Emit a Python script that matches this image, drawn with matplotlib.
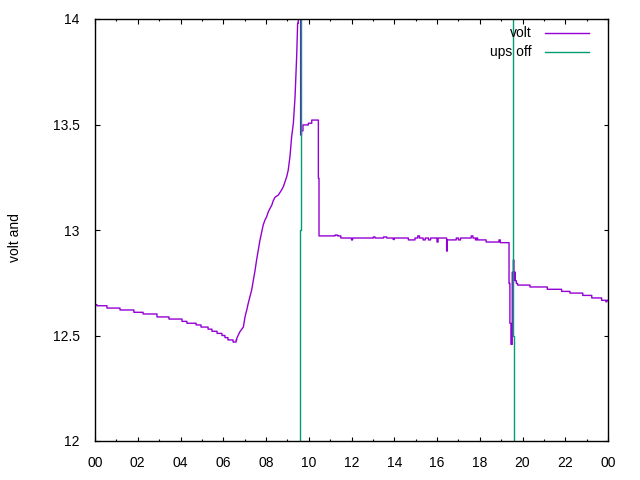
import matplotlib
matplotlib.use("Agg")
import matplotlib.pyplot as plt
from matplotlib.ticker import MultipleLocator, FixedLocator

plt.rcParams['font.family'] = ['Liberation Sans', 'DejaVu Sans']

# volt series (hours, volts), quantized steps
volt_t = [0.00, 0.09, 0.56, 1.17, 1.82, 2.25, 2.90, 3.46, 4.07, 4.30, 4.73, 4.96,
          5.29, 5.47, 5.71, 5.94, 6.08, 6.22, 6.46, 6.60,
          6.63, 6.78, 6.94, 7.02, 7.10, 7.17, 7.25, 7.33, 7.41, 7.49, 7.56, 7.64,
          7.72, 7.80, 7.87, 7.95, 8.03, 8.11, 8.19, 8.27, 8.34, 8.42, 8.58, 8.73,
          8.81, 8.89, 8.97, 9.04, 9.12, 9.20, 9.28, 9.36, 9.44, 9.48, 9.51, 9.62,
          9.66, 9.73, 9.98, 10.14, 10.45, 10.48,
          11.23, 11.35, 11.50, 12.00, 12.05, 13.02, 13.10, 13.50, 13.65, 13.95,
          14.00, 14.66, 14.97, 15.10, 15.18, 15.35, 15.45, 15.60, 15.70, 16.00,
          16.05, 16.45, 16.48, 16.90, 17.00, 17.10, 17.60, 17.68, 17.80, 17.85,
          17.90, 18.30, 18.90, 18.96, 19.37, 19.41, 19.46, 19.52, 19.57, 19.60,
          19.62, 19.66, 19.71, 19.77, 20.35, 21.16, 21.83, 22.22, 22.82, 23.24,
          23.70, 23.90, 23.95, 24.00]
volt_v = [12.646, 12.641, 12.630, 12.621, 12.610, 12.602, 12.588, 12.578, 12.567, 12.558, 12.550, 12.540,
          12.530, 12.520, 12.510, 12.500, 12.490, 12.479, 12.469, 12.479,
          12.486, 12.518, 12.540, 12.589, 12.621, 12.653, 12.684, 12.716, 12.763, 12.810, 12.858, 12.905,
          12.953, 12.992, 13.024, 13.047, 13.063, 13.087, 13.103, 13.118, 13.139, 13.155, 13.166, 13.190,
          13.205, 13.229, 13.253, 13.284, 13.347, 13.442, 13.506, 13.632, 13.838, 13.980, 14.100, 13.450,
          13.470, 13.498, 13.506, 13.521, 13.245, 12.972,
          12.976, 12.972, 12.962, 12.953, 12.962, 12.967, 12.962, 12.967, 12.962, 12.955,
          12.962, 12.953, 12.962, 12.972, 12.962, 12.953, 12.962, 12.953, 12.962, 12.943,
          12.962, 12.900, 12.953, 12.962, 12.953, 12.962, 12.972, 12.962, 12.953, 12.962,
          12.953, 12.943, 12.953, 12.940, 12.747, 12.558, 12.458, 12.800, 12.858, 12.760,
          12.800, 12.760, 12.747, 12.739, 12.730, 12.719, 12.709, 12.701, 12.690, 12.678,
          12.667, 12.660, 12.667, 12.667]

# ups off signal
ups_t = [0.00, 9.59, 9.64, 19.57, 19.62, 24.00]
ups_v = [0.0, 13.0, 15.0, 12.5, 0.0, 0.0]

# hours during which the charge ramp is drawn as sloped segments
ramp_start, ramp_end = 6.62, 9.50

xtick_pos = list(range(0, 25, 2))
xtick_lab = ["00", "02", "04", "06", "08", "10", "12", "14", "16", "18", "20", "22", "00"]
ytick_pos = [12, 12.5, 13, 13.5, 14]
ytick_lab = ["12", "12.5", "13", "13.5", "14"]

# build path: step segments, sloped within the ramp
px, py = [volt_t[0]], [volt_v[0]]
for i in range(1, len(volt_t)):
    if not (ramp_start <= volt_t[i - 1] and volt_t[i] <= ramp_end):
        px.append(volt_t[i]); py.append(volt_v[i - 1])
    px.append(volt_t[i]); py.append(volt_v[i])

fig = plt.figure(figsize=(6.4, 4.8), dpi=100)
ax = fig.add_axes([95/640, 1-441/480, 513/640, 422/480])

purple = "#9400D3"
green = "#009E73"
ax.plot(px, py, color=purple, lw=1.0)
ax.plot(ups_t, ups_v, color=green, lw=1.0, drawstyle='steps-post')

ax.set_xlim(0, 24)
ax.set_ylim(12, 14)
ax.xaxis.set_major_locator(FixedLocator(xtick_pos))
ax.set_xticklabels(xtick_lab)
ax.xaxis.set_minor_locator(MultipleLocator(1))
ax.yaxis.set_major_locator(FixedLocator(ytick_pos))
ax.set_yticklabels(ytick_lab)
ax.tick_params(axis='both', which='major', direction='in', length=4.5*0.72, width=0.8,
               top=True, right=True, labelsize=10, colors='black')
ax.tick_params(axis='x', which='major', pad=11)
ax.tick_params(axis='y', which='major', pad=11)
ax.tick_params(axis='x', which='minor', direction='in', length=2.3*0.72, width=0.8, top=True)
for s in ax.spines.values():
    s.set_linewidth(1.0)

fig.text(15/640, 1-238/480, "volt and", rotation=90, ha='center', va='center', fontsize=10)

# legend
ax.text(0.851, 0.966, "volt", transform=ax.transAxes, ha='right', va='center', fontsize=10)
ax.text(0.851, 0.921, "ups off", transform=ax.transAxes, ha='right', va='center', fontsize=10)
ax.plot([0.877, 0.9636], [0.966, 0.966], transform=ax.transAxes, color=purple, lw=1.0, clip_on=False)
ax.plot([0.877, 0.9636], [0.921, 0.921], transform=ax.transAxes, color=green, lw=1.0, clip_on=False)

fig.savefig("out.png", dpi=100)
